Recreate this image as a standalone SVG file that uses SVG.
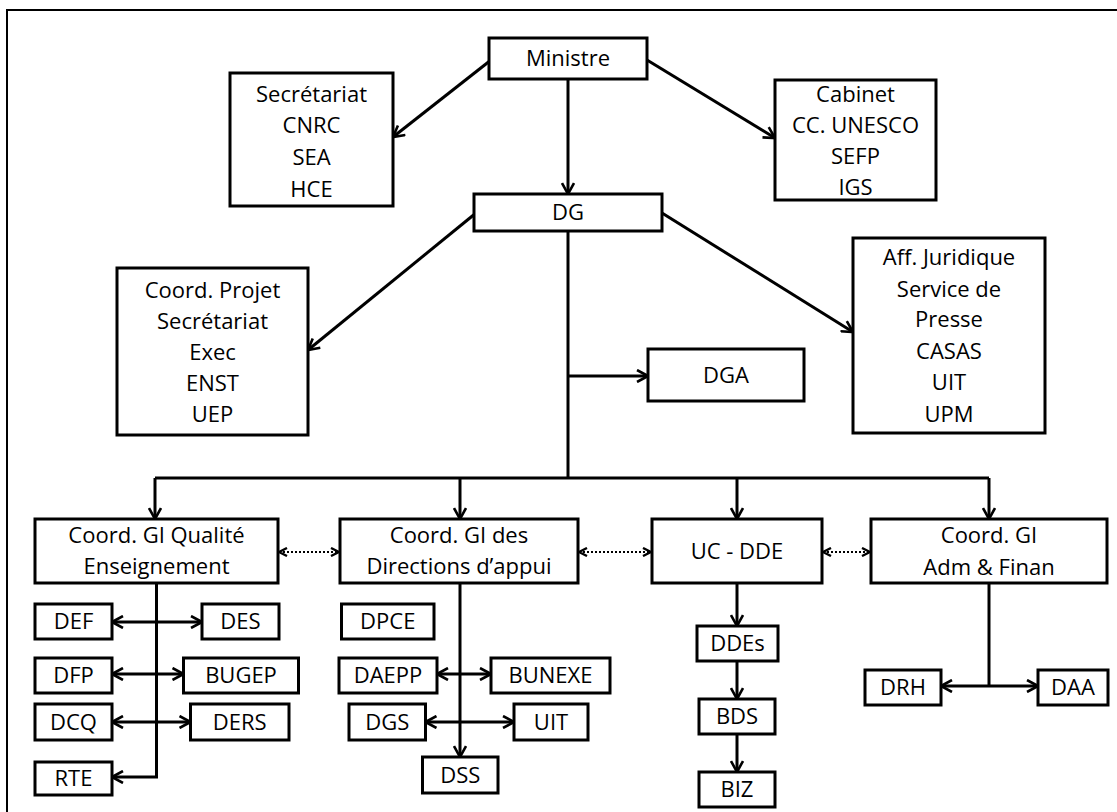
<svg xmlns="http://www.w3.org/2000/svg" width="1117" height="812" viewBox="0 0 1117 812">
<style>
.box{fill:#fff;stroke:#000;stroke-width:3}
text{font-family:"Open Sans","Noto Sans",sans-serif;font-size:22px;text-anchor:middle;fill:#000}
.ln{fill:none;stroke:#000;stroke-width:3}
.ar{marker-end:url(#ah)}
.ar2{marker-start:url(#ah);marker-end:url(#ah)}
.dot{fill:none;stroke:#000;stroke-width:2.2;stroke-dasharray:2 2;marker-start:url(#ahs);marker-end:url(#ahs)}
</style>
<defs>
<marker id="ah" viewBox="0 0 14 14" refX="12.5" refY="7" markerWidth="14" markerHeight="14" markerUnits="userSpaceOnUse" orient="auto-start-reverse">
<path d="M1.5,1 L12.5,7 L1.5,13" fill="none" stroke="#000" stroke-width="2.6"/>
</marker>
<marker id="ahs" viewBox="0 0 10 10" refX="9" refY="5" markerWidth="10" markerHeight="10" markerUnits="userSpaceOnUse" orient="auto-start-reverse">
<path d="M1,1 L9,5 L1,9" fill="none" stroke="#000" stroke-width="2.4"/>
</marker>
</defs>
<rect width="1117" height="812" fill="#fff"/>
<path d="M7,812 V10 H1117" fill="none" stroke="#000" stroke-width="2"/>

<g id="connectors">
<path class="ln ar" d="M491,60 L393,137"/>
<path class="ln ar" d="M647,60 L775,138"/>
<path class="ln ar" d="M568,79 V194"/>
<path class="ln ar" d="M476,213 L308,350"/>
<path class="ln ar" d="M662,213 L853,332"/>
<path class="ln" d="M568,231 V478"/>
<path class="ln ar" d="M568,376 H648"/>
<path class="ln" d="M155,478 H989"/>
<path class="ln ar" d="M155,478 V519"/>
<path class="ln ar" d="M460,478 V519"/>
<path class="ln ar" d="M737,478 V519"/>
<path class="ln ar" d="M989,478 V519"/>
<path class="dot" d="M279,552 H339"/>
<path class="dot" d="M579,552 H651"/>
<path class="dot" d="M823,552 H870"/>
<path class="ln ar" d="M156.5,583 V777 H112"/>
<path class="ln ar2" d="M112,622 H202"/>
<path class="ln ar2" d="M112,674 H183.5"/>
<path class="ln ar2" d="M112,722 H190.5"/>
<path class="ln ar" d="M460,583 V757"/>
<path class="ln ar2" d="M437,674 H491"/>
<path class="ln ar2" d="M425.5,722 H514"/>
<path class="ln ar" d="M737,583 V626"/>
<path class="ln ar" d="M737,661 V699"/>
<path class="ln ar" d="M737,734 V772"/>
<path class="ln" d="M989,583 V686"/>
<path class="ln ar2" d="M941,686 H1038"/>
</g>

<g id="ministre"><rect class="box" x="489" y="38" width="158" height="41"/><text x="568" y="66">Ministre</text></g>
<g id="secretariat"><rect class="box" x="230" y="73" width="163" height="133"/>
<text x="311.5" y="102">Secrétariat</text><text x="311.5" y="133">CNRC</text><text x="311.5" y="165">SEA</text><text x="311.5" y="197">HCE</text></g>
<g id="cabinet"><rect class="box" x="775" y="80" width="161" height="120"/>
<text x="855.5" y="102">Cabinet</text><text x="855.5" y="133">CC. UNESCO</text><text x="855.5" y="164">SEFP</text><text x="855.5" y="195">IGS</text></g>
<g id="dg"><rect class="box" x="474" y="194" width="188" height="37"/><text x="568" y="220">DG</text></g>
<g id="coordprojet"><rect class="box" x="117" y="268" width="191" height="167"/>
<text x="212.5" y="298">Coord. Projet</text><text x="212.5" y="329">Secrétariat</text><text x="212.5" y="360">Exec</text><text x="212.5" y="391">ENST</text><text x="212.5" y="422">UEP</text></g>
<g id="affjuridique"><rect class="box" x="853" y="238" width="192" height="195"/>
<text x="949" y="265">Aff. Juridique</text><text x="949" y="297">Service de</text><text x="949" y="327">Presse</text><text x="949" y="359">CASAS</text><text x="949" y="390">UIT</text><text x="949" y="422">UPM</text></g>
<g id="dga"><rect class="box" x="648" y="349" width="156" height="52"/><text x="726" y="383">DGA</text></g>
<g id="qualite"><rect class="box" x="35" y="519" width="243" height="64"/><text x="156.5" y="543">Coord. GI Qualité</text><text x="156.5" y="574">Enseignement</text></g>
<g id="directions"><rect class="box" x="340" y="519" width="238" height="64"/><text x="459" y="543">Coord. GI des</text><text x="459" y="574">Directions d’appui</text></g>
<g id="ucdde"><rect class="box" x="652" y="519" width="170" height="64"/><text x="737" y="559">UC - DDE</text></g>
<g id="admfinan"><rect class="box" x="871" y="519" width="236" height="64"/><text x="989" y="543">Coord. GI</text><text x="989" y="575">Adm &amp; Finan</text></g>
<g id="def"><rect class="box" x="35" y="604" width="77" height="35"/><text x="73.5" y="629">DEF</text></g>
<g id="des"><rect class="box" x="202" y="604" width="77" height="35"/><text x="240.5" y="629">DES</text></g>
<g id="dfp"><rect class="box" x="35" y="658" width="77" height="35"/><text x="73.5" y="683">DFP</text></g>
<g id="bugep"><rect class="box" x="183.5" y="658" width="115" height="35"/><text x="241" y="683">BUGEP</text></g>
<g id="dcq"><rect class="box" x="35" y="704" width="77" height="36"/><text x="73.5" y="729.5">DCQ</text></g>
<g id="ders"><rect class="box" x="190.5" y="704" width="98.5" height="36"/><text x="239.75" y="729.5">DERS</text></g>
<g id="rte"><rect class="box" x="35" y="762" width="77" height="33"/><text x="73.5" y="786">RTE</text></g>
<g id="dpce"><rect class="box" x="341.5" y="604" width="92.5" height="35"/><text x="387.75" y="629">DPCE</text></g>
<g id="daepp"><rect class="box" x="339" y="658" width="98" height="35"/><text x="388" y="683">DAEPP</text></g>
<g id="bunexe"><rect class="box" x="491" y="658" width="119" height="35"/><text x="550.5" y="683">BUNEXE</text></g>
<g id="dgs"><rect class="box" x="349" y="704" width="76.5" height="36"/><text x="387.25" y="729.5">DGS</text></g>
<g id="uit"><rect class="box" x="514" y="704" width="74" height="36"/><text x="551" y="729.5">UIT</text></g>
<g id="dss"><rect class="box" x="422.5" y="757" width="75.5" height="36"/><text x="460.25" y="782.5">DSS</text></g>
<g id="ddes"><rect class="box" x="697" y="626" width="81" height="35"/><text x="737.5" y="651">DDEs</text></g>
<g id="bds"><rect class="box" x="699" y="699" width="76" height="35"/><text x="737" y="724">BDS</text></g>
<g id="biz"><rect class="box" x="699" y="772" width="76" height="35"/><text x="737" y="797">BIZ</text></g>
<g id="drh"><rect class="box" x="865" y="670" width="76" height="35"/><text x="903" y="695">DRH</text></g>
<g id="daa"><rect class="box" x="1038" y="670" width="70" height="35"/><text x="1073" y="695">DAA</text></g>
</svg>
